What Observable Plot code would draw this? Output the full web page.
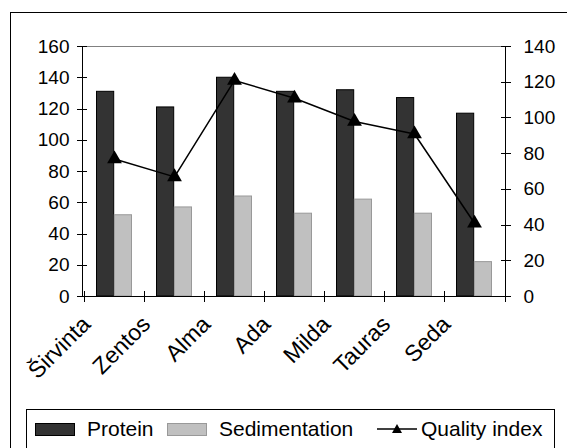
<!DOCTYPE html>
<html>
<head>
<meta charset="utf-8">
<script src="https://cdn.jsdelivr.net/npm/d3@7"></script>
<script src="https://cdn.jsdelivr.net/npm/@observablehq/plot@0.6"></script>
<style>
  html, body { margin: 0; padding: 0; background: #fff; }
  body { width: 567px; height: 448px; overflow: hidden; position: relative; font-family: "Liberation Sans", Arial, sans-serif; }
  #frame { position: absolute; left: 10px; top: 12px; width: 600px; height: 500px; border: 1px solid #000; box-sizing: border-box; }
  #chart { position: absolute; left: 0; top: 0; }
  #legend { position: absolute; left: 26px; top: 409px; width: 529px; height: 60px; border: 1px solid #000; box-sizing: border-box; background: #fff; font-size: 21px; color: #000; }
  .item { position: absolute; top: 5px; display: flex; align-items: center; height: 28px; }
  .sw { width: 40px; height: 13px; box-sizing: border-box; margin-right: 12px; }
</style>
</head>
<body>
<div id="frame"></div>
<div id="chart"></div>
<div id="legend"></div>
<script>
const categories = ["Širvinta", "Zentos", "Alma", "Ada", "Milda", "Tauras", "Seda"];
const protein = [131, 121, 140, 131, 132, 127, 117];
const sedimentation = [52, 57, 64, 53, 62, 53, 22];
const qualityIndex = [77, 67, 121, 111, 98, 91, 41];
const leftTicks = [0, 20, 40, 60, 80, 100, 120, 140, 160];
const rightTicks = [0, 20, 40, 60, 80, 100, 120, 140];
const seriesNames = ["Protein", "Sedimentation", "Quality index"];

const leftMax = 160, rightMax = 140;
const toLeft = v => v * leftMax / rightMax;

const data = categories.map((c, i) => ({cat: c, protein: protein[i], sed: sedimentation[i], q: qualityIndex[i]}));

function axisLines(index, scales, values, dims) {
  const {x, y} = scales;
  const {width, height, marginLeft, marginRight, marginBottom, marginTop} = dims;
  const x0 = marginLeft, x1 = width - marginRight, yb = height - marginBottom;
  const bw = (x1 - x0) / categories.length;
  const g = d3.create("svg:g").attr("stroke", "#000").attr("fill", "none").attr("stroke-width", 1);
  g.append("line").attr("x1", x0).attr("x2", x1).attr("y1", marginTop + 0.5).attr("y2", marginTop + 0.5).attr("stroke", "#808080");
  g.append("line").attr("x1", x0 + 0.5).attr("x2", x0 + 0.5).attr("y1", marginTop).attr("y2", yb);
  g.append("line").attr("x1", x1 - 0.5).attr("x2", x1 - 0.5).attr("y1", marginTop).attr("y2", yb);
  g.append("line").attr("x1", x0).attr("x2", x1).attr("y1", yb + 0.5).attr("y2", yb + 0.5);
  for (const v of leftTicks) {
    const yy = Math.round(y(v)) + 0.5;
    g.append("line").attr("x1", x0 - 5).attr("x2", x0 + 5).attr("y1", yy).attr("y2", yy);
  }
  for (const v of rightTicks) {
    const yy = Math.round(y(toLeft(v))) + 0.5;
    g.append("line").attr("x1", x1 - 5).attr("x2", x1 + 5).attr("y1", yy).attr("y2", yy);
  }
  const bounds = categories.map(c => x(c));
  bounds.push(x(categories[categories.length - 1]) + bw);
  for (const bx of bounds) {
    const xx = Math.round(bx) + 0.5;
    g.append("line").attr("x1", xx).attr("x2", xx).attr("y1", yb - 5).attr("y2", yb + 6);
  }
  return g.node();
}

const plot = Plot.plot({
  width: 567,
  height: 400,
  marginLeft: 82,
  marginRight: 61,
  marginTop: 46,
  marginBottom: 104,
  style: {background: "transparent", fontFamily: "'Liberation Sans', Arial, sans-serif", fontSize: "19px", color: "#000"},
  x: {type: "band", domain: categories, padding: 0, axis: null, label: null},
  y: {domain: [0, leftMax], axis: null, label: null},
  marks: [
    Plot.barY(data, {x: "cat", y: "protein", fill: "#333333", stroke: "#000", strokeWidth: 1, insetLeft: 12.5, insetRight: 30.3}),
    Plot.barY(data, {x: "cat", y: "sed", fill: "#c0c0c0", stroke: "#999999", strokeWidth: 1, insetLeft: 30.3, insetRight: 12.5}),
    axisLines,
    Plot.axisY(leftTicks, {anchor: "left", tickSize: 0, tickPadding: 13, fill: "#000", label: null}),
    Plot.axisY(rightTicks.map(toLeft), {anchor: "right", tickSize: 0, tickPadding: 17, fill: "#000", label: null, tickFormat: d => String(Math.round(d * rightMax / leftMax))}),
    Plot.axisX({tickRotate: -45, tickSize: 0, tickPadding: 24, dx: -28, fill: "#000", fontSize: 23, label: null}),
    Plot.line(data, {x: "cat", y: d => toLeft(d.q), stroke: "#000", strokeWidth: 1.5}),
    Plot.dot(data, {x: "cat", y: d => toLeft(d.q), symbol: "triangle", r: 5.5, fill: "#000", stroke: "none"})
  ]
});
document.getElementById("chart").appendChild(plot);

const legend = document.getElementById("legend");
const items = [
  {name: seriesNames[0], left: 8, html: '<div class="sw" style="background:#333333;border:1px solid #000"></div>'},
  {name: seriesNames[1], left: 140, html: '<div class="sw" style="background:#c0c0c0;border:1px solid #999"></div>'},
  {name: seriesNames[2], left: 348, html: '<svg width="44" height="14" style="margin-right:2px"><line x1="2" x2="42" y1="7" y2="7" stroke="#000" stroke-width="1.5"/><path d="M22,2 L27,11 L17,11 Z" fill="#000"/></svg>'}
];
for (const it of items) {
  const d = document.createElement("div");
  d.className = "item";
  d.style.left = it.left + "px";
  d.innerHTML = it.html + "<span>" + it.name + "</span>";
  legend.appendChild(d);
}
</script>
</body>
</html>
